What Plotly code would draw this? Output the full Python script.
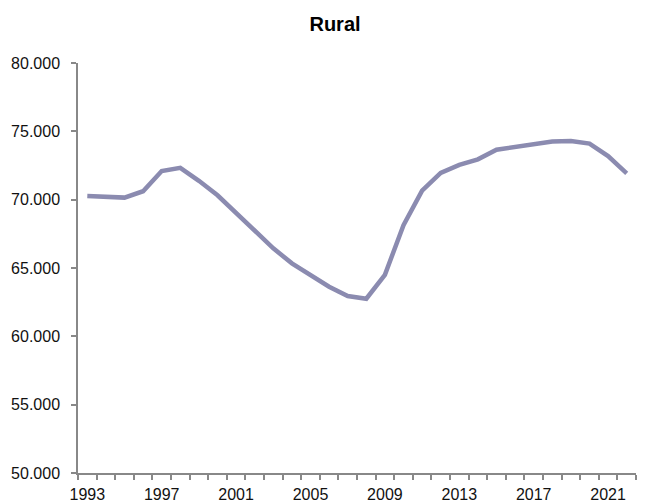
import plotly.graph_objects as go

years = list(range(1993, 2023))
values = [70.26, 70.17, 70.15, 70.62, 72.10, 72.33, 71.38, 70.32, 69.00, 67.78,
          66.44, 65.34, 64.48, 63.63, 62.95, 62.75, 64.50, 68.14, 70.66, 71.96,
          72.55, 72.95, 73.65, 73.87, 74.07, 74.25, 74.30, 74.10, 73.19, 71.93]
label_years = [1993, 1997, 2001, 2005, 2009, 2013, 2017, 2021]

idx = list(range(len(years)))
fig = go.Figure(go.Scatter(x=idx, y=values, mode="lines",
                           line=dict(color="#8b8bb0", width=4.5), hoverinfo="skip"))

# page body has an 8px margin; margins compensate so the plot area matches
fig.update_layout(
    width=646, height=503,
    margin=dict(l=70, r=18, t=55, b=38, autoexpand=False),
    paper_bgcolor="white", plot_bgcolor="white",
    title=dict(text="<b>Rural</b>", x=327 / 646, xanchor="center",
               y=1 - 16 / 503, yanchor="middle",
               font=dict(family="Liberation Sans, Arial", size=20, color="black")),
    font=dict(family="Liberation Sans, Arial", size=16, color="#111111"),
    showlegend=False,
)
fig.update_xaxes(
    automargin=False,
    range=[-0.5, len(years) - 0.5],
    tickvals=[years.index(y) for y in label_years],
    ticktext=[str(y) for y in label_years],
    ticks="", showgrid=False, zeroline=False,
    showline=True, linecolor="#888888", linewidth=1.5,
    ticklabelstandoff=6,
    minor=dict(tickvals=[i - 0.5 for i in range(len(years) + 1)], ticks="outside",
               ticklen=5, tickcolor="#888888", tickwidth=1.5, showgrid=False),
)
fig.update_yaxes(
    automargin=False,
    range=[50, 80], dtick=5, tickformat=".3f",
    ticks="outside", ticklen=5, tickcolor="#888888", tickwidth=1.5,
    ticklabelstandoff=8,
    showgrid=False, zeroline=False,
    showline=True, linecolor="#888888", linewidth=1.5,
)
fig.write_html("out.html")
